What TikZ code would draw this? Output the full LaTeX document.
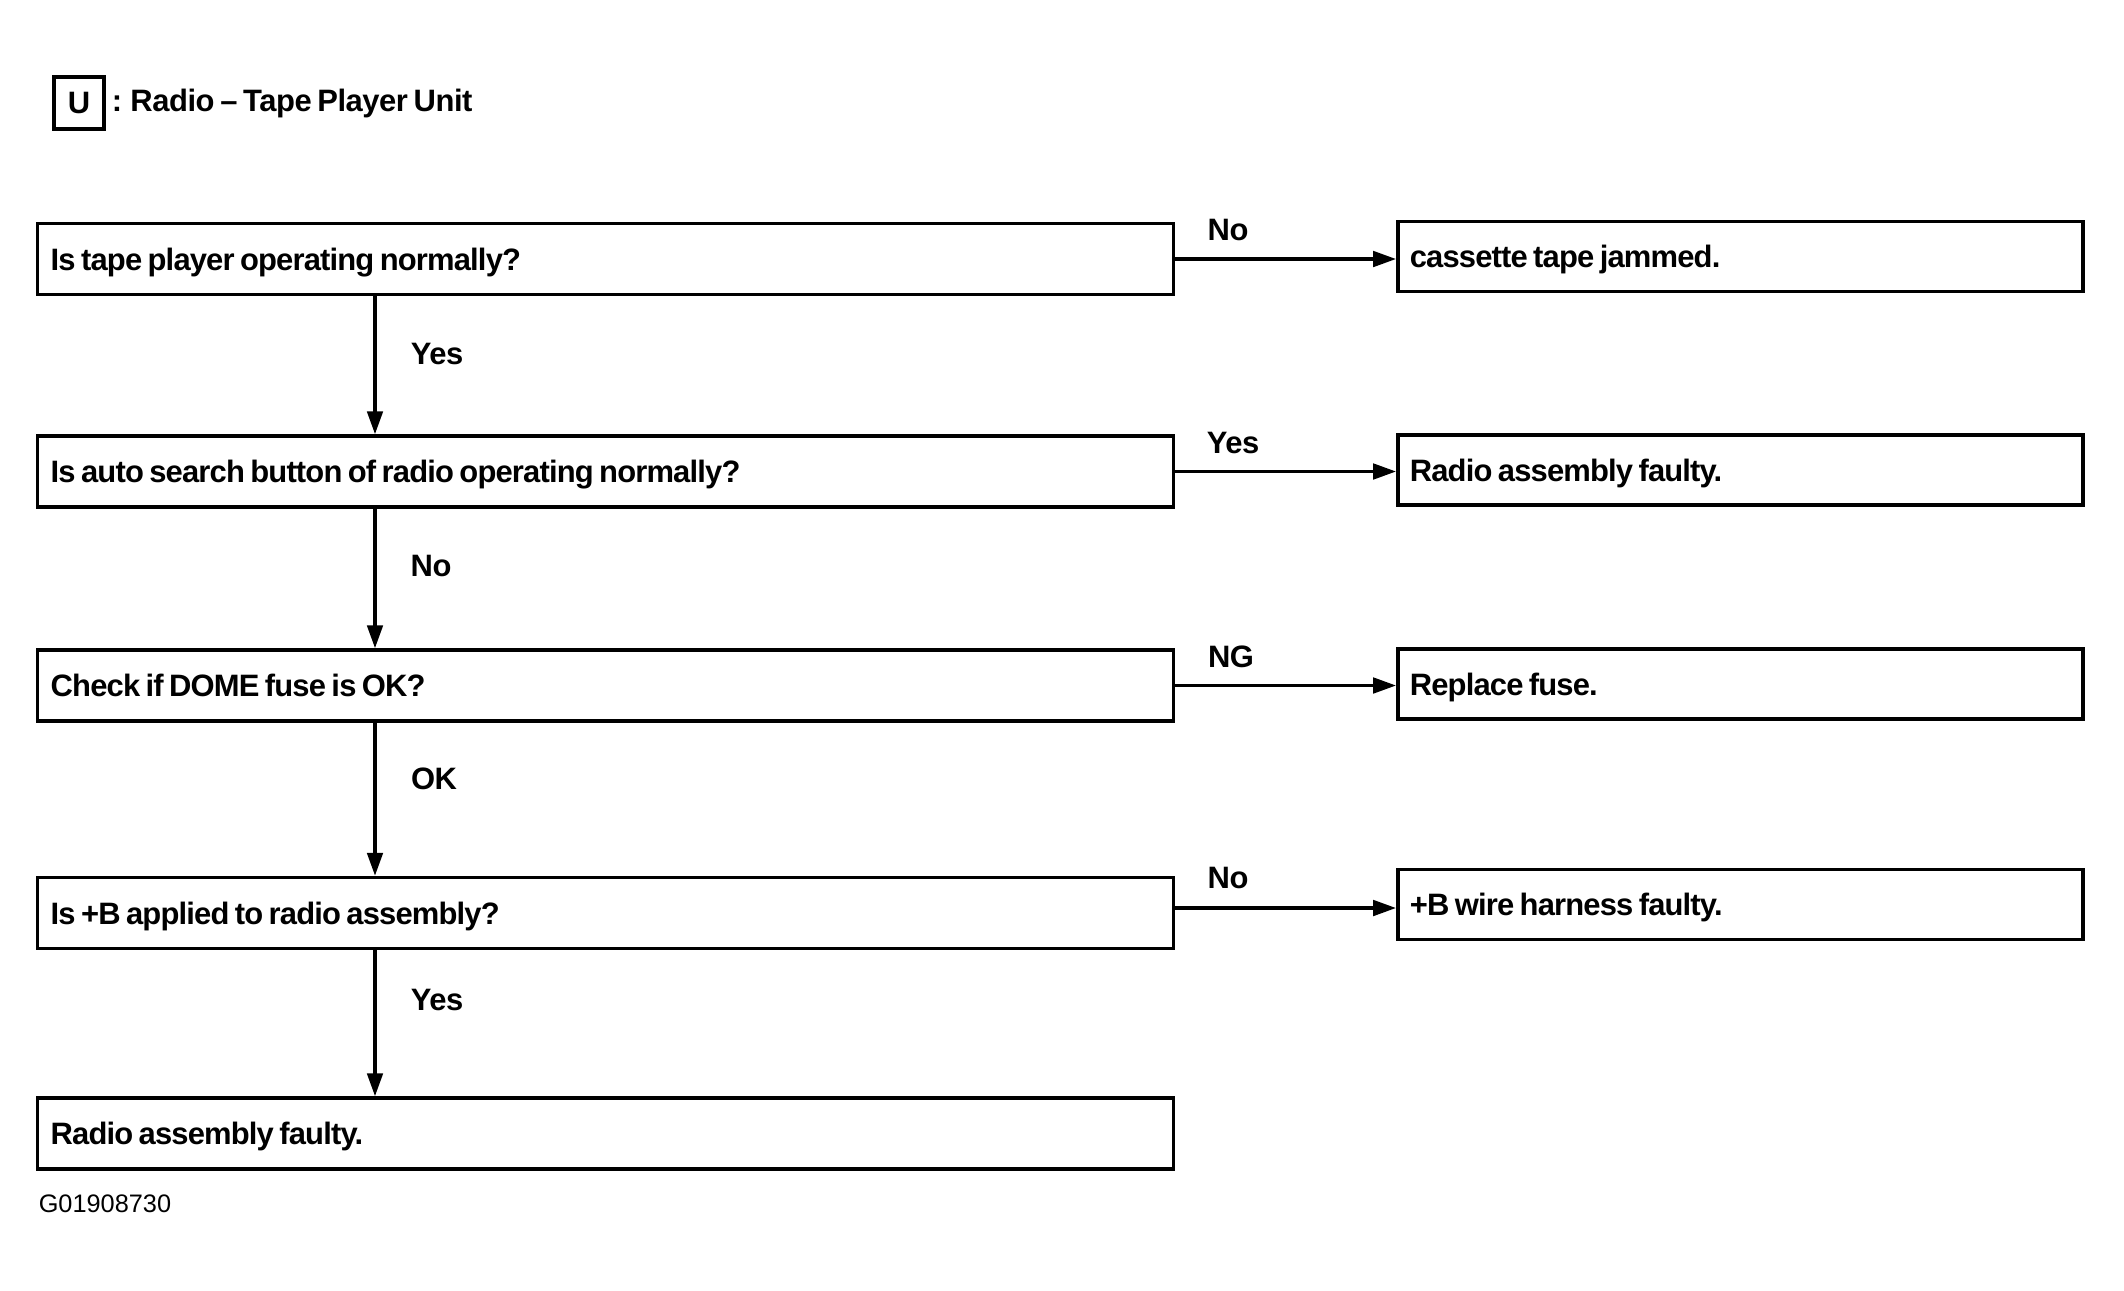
\documentclass[tikz,border=0pt]{standalone}
\usepackage{fontspec}
\setmainfont{Liberation Sans}[UprightFont=* Bold,LetterSpace=-1.5,WordSpace=0.7]
\newfontfamily\boxfont{Liberation Sans}[UprightFont=* Bold,LetterSpace=-2.7,WordSpace=0.7]
\newfontfamily\codefont{Liberation Sans}
\usetikzlibrary{arrows.meta,calc}
\begin{document}
\begin{tikzpicture}[x=0.01cm,y=-0.01cm,
  line width=1pt,
  txt/.style={font=\fontsize{8.8}{10}\selectfont},
  btxt/.style={font=\boxfont\fontsize{8.8}{10}\selectfont},
  qbox/.style={btxt,draw,rectangle,minimum width=113.5mm,minimum height=7.1mm,text width=110.9mm,align=left,inner xsep=1.3mm,inner ysep=0pt,text height=6.3pt,text depth=0pt,execute at begin node={\spaceskip=0pt\xspaceskip=0pt}},
  rbox/.style={btxt,draw,rectangle,minimum width=68.5mm,minimum height=7mm,text width=66.1mm,align=left,inner xsep=1.2mm,inner ysep=0pt,text height=6.3pt,text depth=0pt,execute at begin node={\spaceskip=0pt\xspaceskip=0pt}},
  lbl/.style={txt,inner sep=0pt},
  arr/.style={-{Triangle[length=6.5pt,width=4.4pt]},line width=0.95pt}
]
\useasboundingbox (0,0) rectangle (2124,1290);
% header
\node[draw,line width=1pt,minimum width=5mm,minimum height=5.2mm,inner sep=0pt,txt] (ubox) at (79,103) {U};
\node[lbl,anchor=west] (title) at (110,103) {: Radio -- Tape Player Unit};
% left column
\node[qbox] (b1) at (605.5,259) {Is tape player operating normally?};
\node[qbox] (b2) at (605.5,471.5) {Is auto search button of radio operating normally?};
\node[qbox] (b3) at (605.5,685.5) {Check if DOME fuse is OK?};
\node[qbox] (b4) at (605.5,913) {Is +B applied to radio assembly?};
\node[qbox] (b5) at (605.5,1133.5) {Radio assembly faulty.};
% right column
\node[rbox] (r1) at (1740.5,256.5) {cassette tape jammed.};
\node[rbox] (r2) at (1740.5,470) {Radio assembly faulty.};
\node[rbox] (r3) at (1740.5,684) {Replace fuse.};
\node[rbox] (r4) at (1740.5,904.5) {+B wire harness faulty.};
% vertical arrows
\coordinate (vx) at (375,0);
\draw[arr] (b1.south -| vx) -- (b2.north -| vx);
\draw[arr] (b2.south -| vx) -- (b3.north -| vx);
\draw[arr] (b3.south -| vx) -- (b4.north -| vx);
\draw[arr] (b4.south -| vx) -- (b5.north -| vx);
% horizontal arrows
\draw[arr] (b1.east) -- (b1.east -| r1.west);
\draw[arr] (b2.east) -- (b2.east -| r2.west);
\draw[arr] (b3.east) -- (b3.east -| r3.west);
\coordinate (h4) at (1173,908);
\draw[arr] (h4) -- (h4 -| r4.west);
% labels
\node[lbl] (l1) at (1228,230) {No};
\node[lbl] (l2) at (1233,443) {Yes};
\node[lbl] (l3) at (1231,657) {NG};
\node[lbl] (l4) at (1228,878) {No};
\node[lbl] (v1) at (437,354) {Yes};
\node[lbl] (v2) at (431,566) {No};
\node[lbl] (v3) at (434,779) {OK};
\node[lbl] (v4) at (437,1000) {Yes};
\node[inner sep=0pt,anchor=west,font=\codefont\fontsize{7.2}{8}\selectfont] (code) at (37,1204) {G01908730};
\end{tikzpicture}
\end{document}
